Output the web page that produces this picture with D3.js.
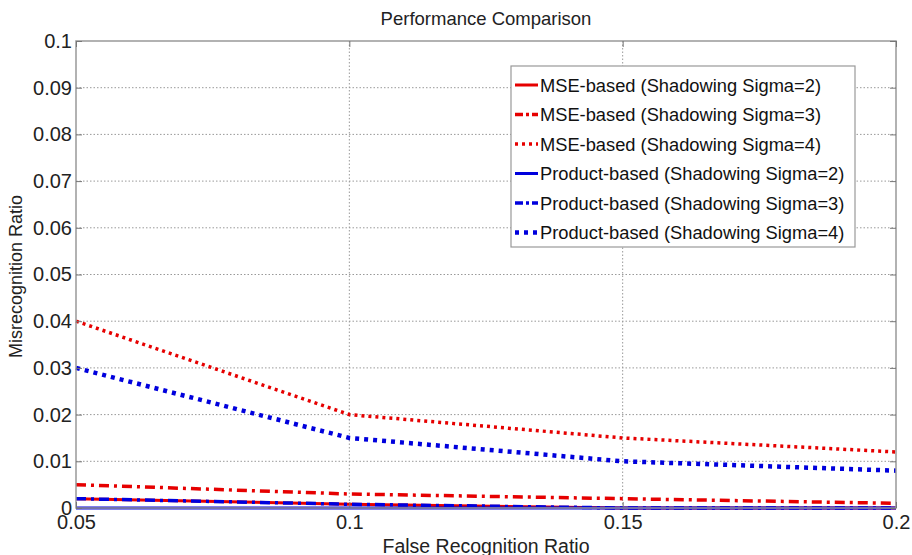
<!DOCTYPE html>
<html>
<head>
<meta charset="utf-8">
<script src="https://cdn.jsdelivr.net/npm/d3@7"></script>
<style>
  body { margin: 0; background: #fff; }
  svg { display: block; font-family: "Liberation Sans", Arial, sans-serif; }
</style>
</head>
<body>
<svg width="912" height="555"></svg>
<script>
const falseRecognition = [0.05, 0.1, 0.15, 0.2];

const mseSigma2 = [0.002, 0.0008, 0, 0];
const mseSigma3 = [0.005, 0.003, 0.002, 0.001];
const mseSigma4 = [0.04, 0.02, 0.015, 0.012];
const productSigma2 = [0, 0, 0, 0];
const productSigma3 = [0.002, 0.0008, 0, 0];
const productSigma4 = [0.03, 0.015, 0.01, 0.008];

const xTicks = [0.05, 0.1, 0.15, 0.2];
const yTicks = [0, 0.01, 0.02, 0.03, 0.04, 0.05, 0.06, 0.07, 0.08, 0.09, 0.1];

const series = [
  { name: "MSE-based (Shadowing Sigma=2)", values: mseSigma2, color: "#e60000", dash: null, width: 3 },
  { name: "MSE-based (Shadowing Sigma=3)", values: mseSigma3, color: "#e60000", dash: "10,5,3,5", width: 3.5 },
  { name: "MSE-based (Shadowing Sigma=4)", values: mseSigma4, color: "#e60000", dash: "3,4", width: 3.5 },
  { name: "Product-based (Shadowing Sigma=2)", values: productSigma2, color: "#0000dd", dash: null, width: 3 },
  { name: "Product-based (Shadowing Sigma=3)", values: productSigma3, color: "#0000dd", dash: "10,5,3,5", width: 3.5 },
  { name: "Product-based (Shadowing Sigma=4)", values: productSigma4, color: "#0000dd", dash: "4,5", width: 4.5 }
];

const svg = d3.select("svg");
const pLeft = 76, pRight = 896, pTop = 41, pBottom = 508;

const x = d3.scaleLinear().domain([0.05, 0.2]).range([pLeft, pRight]);
const y = d3.scaleLinear().domain([0, 0.1]).range([pBottom, pTop]);

// grid
const grid = svg.append("g").attr("stroke", "#999").attr("stroke-width", 1).attr("stroke-dasharray", "1.5,2");
grid.selectAll(".gy").data(yTicks.slice(1, -1)).enter().append("line")
  .attr("x1", pLeft).attr("x2", pRight).attr("y1", d => y(d)).attr("y2", d => y(d));
grid.selectAll(".gx").data(xTicks.slice(1, -1)).enter().append("line")
  .attr("y1", pTop).attr("y2", pBottom).attr("x1", d => x(d)).attr("x2", d => x(d));

// lines
const line = d3.line().x((d, i) => x(falseRecognition[i])).y(d => y(d));
svg.append("g").selectAll("path").data(series).enter().append("path")
  .attr("d", d => line(d.values))
  .attr("fill", "none")
  .attr("stroke", d => d.color)
  .attr("stroke-width", d => d.width)
  .attr("stroke-dasharray", d => d.dash);

// axes box
svg.append("rect").attr("x", pLeft).attr("y", pTop).attr("width", pRight - pLeft).attr("height", pBottom - pTop)
  .attr("fill", "none").attr("stroke", "#999").attr("stroke-width", 1.5);

const axisStyle = g => {
  g.select(".domain").remove();
  g.selectAll(".tick line").attr("stroke", "#777");
  g.selectAll(".tick text").attr("fill", "#222").attr("font-size", 20);
};

svg.append("g").attr("transform", `translate(${pLeft},0)`)
  .call(d3.axisLeft(y).tickValues(yTicks).tickFormat(d3.format("")).tickSize(-6).tickPadding(4))
  .call(axisStyle);
svg.append("g").attr("transform", `translate(${pRight},0)`)
  .call(d3.axisRight(y).tickValues(yTicks).tickFormat("").tickSize(-6))
  .call(axisStyle);
svg.append("g").attr("transform", `translate(0,${pBottom})`)
  .call(d3.axisBottom(x).tickValues(xTicks).tickFormat(d3.format("")).tickSize(-6).tickPadding(7))
  .call(axisStyle);
svg.append("g").attr("transform", `translate(0,${pTop})`)
  .call(d3.axisTop(x).tickValues(xTicks).tickFormat("").tickSize(-6))
  .call(axisStyle);

// titles
svg.append("text").attr("x", (pLeft + pRight) / 2).attr("y", 25).attr("text-anchor", "middle")
  .attr("font-size", 18.5).attr("fill", "#222").text("Performance Comparison");
svg.append("text").attr("x", (pLeft + pRight) / 2).attr("y", 553).attr("text-anchor", "middle")
  .attr("font-size", 19.5).attr("fill", "#222").text("False Recognition Ratio");
svg.append("text").attr("transform", `translate(22,${(pTop + pBottom) / 2 + 2}) rotate(-90)`).attr("text-anchor", "middle")
  .attr("font-size", 18).attr("fill", "#222").text("Misrecognition Ratio");

// legend
const legend = svg.append("g").attr("transform", "translate(511,66)");
legend.append("rect").attr("width", 344).attr("height", 181).attr("fill", "#fff")
  .attr("stroke", "#999").attr("stroke-width", 1.2);
const rows = legend.selectAll(".row").data(series).enter().append("g")
  .attr("transform", (d, i) => `translate(0,${19 + i * 29.5})`);
rows.append("line").attr("x1", 4).attr("x2", 27).attr("y1", 0).attr("y2", 0)
  .attr("stroke", d => d.color).attr("stroke-width", d => d.width)
  .attr("stroke-dasharray", d => d.dash ? (d.dash === "10,5,3,5" ? "8,3,3,3" : d.dash) : null);
rows.append("text").attr("x", 29).attr("y", 6.5).attr("font-size", 18.3).attr("fill", "#111").text(d => d.name);
</script>
</body>
</html>
